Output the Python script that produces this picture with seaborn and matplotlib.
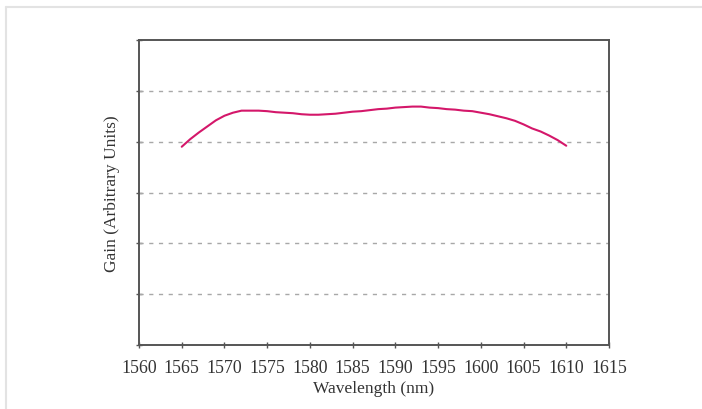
import matplotlib
matplotlib.use("Agg")
import matplotlib.pyplot as plt
import seaborn as sns
import pandas as pd
from matplotlib.lines import Line2D

wavelength = list(range(1565, 1611))
gain = [3.90, 4.05, 4.18, 4.30, 4.42, 4.51, 4.57, 4.61, 4.61, 4.61,
        4.60, 4.58, 4.57, 4.56, 4.54, 4.53, 4.53, 4.54, 4.55, 4.57,
        4.59, 4.60, 4.62, 4.64, 4.65, 4.67, 4.68, 4.69, 4.69, 4.67,
        4.66, 4.64, 4.63, 4.61, 4.60, 4.57, 4.54, 4.50, 4.46, 4.41,
        4.34, 4.26, 4.20, 4.12, 4.03, 3.92]
x_ticks = [1560, 1565, 1570, 1575, 1580, 1585, 1590, 1595, 1600, 1605, 1610, 1615]
y_grid = [1, 2, 3, 4, 5]

sns.set_theme(style="white")
plt.rcParams['font.family'] = ['Liberation Serif', 'DejaVu Serif']

df = pd.DataFrame({"Wavelength": wavelength, "Gain": gain})

fig = plt.figure(figsize=(7.02, 4.10), dpi=100)
ax = fig.add_axes([139/702, 1 - 346/410, (609-139)/702, (346-41)/410])

for g in y_grid:
    ax.axhline(g, color="#a8a8a8", linestyle=(0, (3, 4)), linewidth=1.0, zorder=1)

sns.lineplot(data=df, x="Wavelength", y="Gain", ax=ax, color="#d4176a",
             linewidth=1.5, zorder=3)

ax.set_xlim(1560, 1615)
ax.set_ylim(0, 6)
ax.set_xticks(x_ticks)
ax.set_xticklabels([str(t) for t in x_ticks], fontsize=12.8, color="#333333")
ax.set_yticks([0] + y_grid + [6])
ax.set_yticklabels([])
ax.tick_params(axis="both", direction="inout", length=4, width=1, color="#555555",
               left=True, bottom=True, pad=8)
ax.set_xlabel("Wavelength (nm)", fontsize=12.5, color="#333333", labelpad=3)
ax.set_ylabel("Gain (Arbitrary Units)", fontsize=12.5, color="#333333", labelpad=4)
for s in ax.spines.values():
    s.set_color("#555555")
    s.set_linewidth(1.4)
    s.set_visible(True)

# outer light frame
fig.add_artist(Line2D([6/702, 1.0], [1 - 8/410, 1 - 8/410], transform=fig.transFigure,
                      color="#e3e3e3", linewidth=1.5))
fig.add_artist(Line2D([6/702, 6/702], [0.0, 1 - 8/410], transform=fig.transFigure,
                      color="#e3e3e3", linewidth=1.5))

fig.savefig("out.png", dpi=100)
